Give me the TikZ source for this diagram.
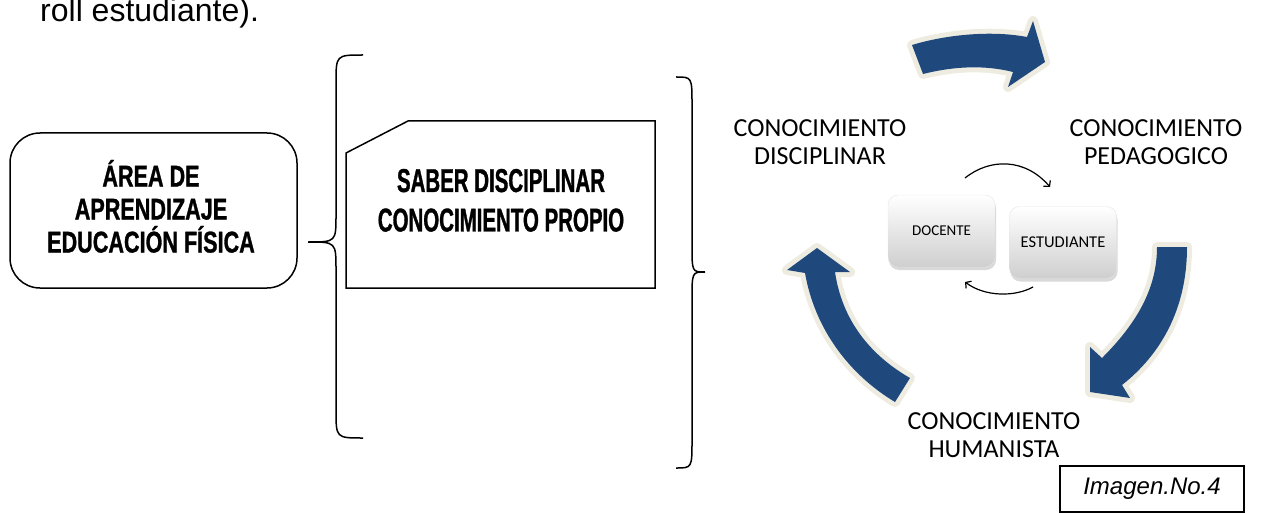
\documentclass[tikz,border=0pt]{standalone}
\usepackage{fontspec}
\setmainfont{Liberation Sans}
\newfontfamily\calib{Carlito}
\newfontfamily\condA[FakeStretch=0.72,FakeBold=1]{Liberation Sans}
\newfontfamily\condB[FakeStretch=0.62,FakeBold=1]{Liberation Sans}
\usetikzlibrary{arrows.meta,shadows}
\definecolor{arrowblue}{HTML}{1F497D}
\definecolor{cream}{HTML}{EEECE1}
\begin{document}
\begin{tikzpicture}[x=1pt,y=-1pt,
  line/.style={line width=1.5pt},
  bigarrow/.style={fill=arrowblue, preaction={draw=cream, line width=10pt, line join=round}},
  keybox/.style={rounded corners=10pt, top color=white, bottom color=gray!38, draw=gray!20,
    minimum width=107pt, minimum height=72pt,
    drop shadow={opacity=0.3, shadow xshift=1pt, shadow yshift=-3pt}},
  cyc/.style={font=\calib\fontsize{26}{28}\selectfont, align=center, inner sep=0pt, anchor=south},
  small/.style={line width=1.2pt, -{Straight Barb[length=4pt,width=9pt]}},
]
\useasboundingbox (0,0) rectangle (1265,513);

% top text
\node[anchor=base west, inner sep=0pt, font=\fontsize{32}{36}\selectfont] (top) at (40,22) {roll estudiante).};

% left rounded box
\node[draw, line, rounded corners=30pt, minimum width=287pt, minimum height=155pt] (area) at (153.5,210.5) {};
\node[align=center, inner sep=0pt, anchor=south, font=\condA\bfseries\fontsize{30}{33}\selectfont] (areatext) at (151,253)
  {ÁREA DE\\APRENDIZAJE\\EDUCACIÓN FÍSICA};

% left brace
\draw[line] (363,55) .. controls (336,55) .. (336,83) -- (336,215)
  .. controls (336,242) .. (308,242) .. controls (336,242) .. (336,270) -- (336,410)
  .. controls (336,438) .. (363,438);

% chamfered box
\draw[line] (346,153) -- (408,121) -- (655,121) -- (655,288) -- (346,288) -- cycle;
\node[align=center, inner sep=0pt, anchor=south, font=\condB\bfseries\fontsize{33}{39.5}\selectfont] (saber) at (501,232)
  {SABER DISCIPLINAR\\CONOCIMIENTO PROPIO};

% right brace
\draw[line] (676,77) .. controls (692,77) .. (692,105) -- (692,245)
  .. controls (692,272) .. (705,272) .. controls (692,272) .. (692,300) -- (692,440)
  .. controls (692,468) .. (676,468);

% big cycle arrows
\path[bigarrow] (912,45) .. controls (945,35) and (990,30) .. (1027,37) -- (1033,21) -- (1045,62)
  -- (1008,87) -- (1013,72) .. controls (985,65) and (955,66) .. (923,74) -- cycle;
\path[bigarrow] (1157,247) -- (1187,247) .. controls (1187,310) and (1160,355) .. (1122,385)
  -- (1130,398) -- (1090,392) -- (1090,347) -- (1102,358)
  .. controls (1135,325) and (1157,290) .. (1157,247) -- cycle;
\path[bigarrow] (910,378) -- (895,402) .. controls (850,375) and (815,330) .. (805,273)
  -- (787,270) -- (817,248) -- (850,272) -- (835,272)
  .. controls (842,320) and (870,355) .. (910,378) -- cycle;

% cycle labels
\node[cyc] (disc) at (820,165) {CONOCIMIENTO\\DISCIPLINAR};
\node[cyc] (ped) at (1156,165) {CONOCIMIENTO\\PEDAGOGICO};
\node[cyc] (hum) at (994,458) {CONOCIMIENTO\\HUMANISTA};

% key boxes
\node[keybox, font=\calib\fontsize{15}{17}\selectfont] (doc) at (941.5,231) {DOCENTE};
\node[keybox, font=\calib\fontsize{16.5}{18}\selectfont] (est) at (1063,242.5) {ESTUDIANTE};

% small arrows
\coordinate (s1) at (965,178);
\coordinate (e1) at (1050,187);
\coordinate (s2) at (1033,287);
\coordinate (e2) at (965,282);
\draw[small] (s1) .. controls (990,158) and (1025,158) .. (e1);
\draw[small] (s2) .. controls (1015,297) and (985,297) .. (e2);

% image label
\node[draw, line, minimum width=184pt, minimum height=46pt,
  font=\itshape\fontsize{24}{28}\selectfont] (img) at (1152,489) {Imagen.No.4};
\end{tikzpicture}
\end{document}
